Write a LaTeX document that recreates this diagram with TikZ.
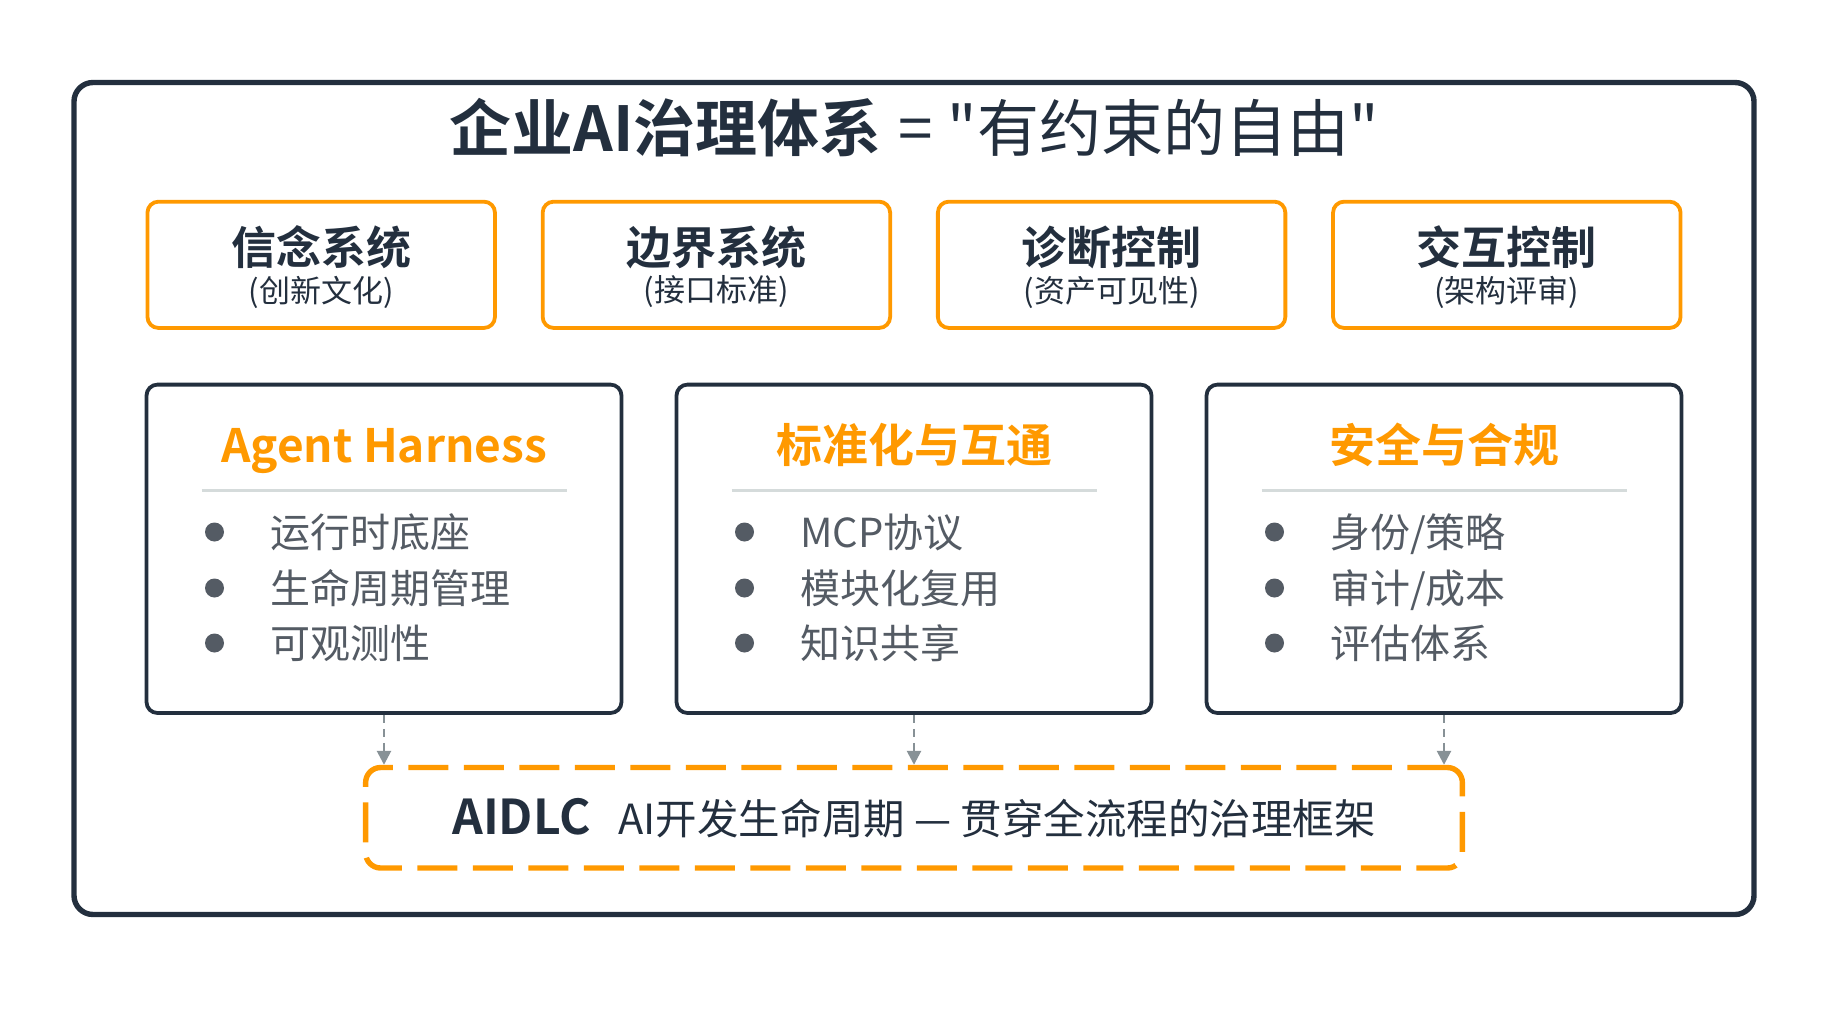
\documentclass[tikz,border=0pt]{standalone}
\usepackage{fontspec}
\setmainfont{Noto Sans CJK SC}[BoldFont={* Bold}, Ligatures=TeXOff]
\usetikzlibrary{arrows.meta}

\definecolor{navy}{HTML}{232F3E}
\definecolor{amzorange}{HTML}{FF9900}
\definecolor{slate}{HTML}{545B64}
\definecolor{rulegray}{HTML}{D5DBDB}
\definecolor{arrowgray}{HTML}{879196}

\begin{document}
\begin{tikzpicture}[
    x=1pt, y=-1pt,
    % GLOBAL CFG
    font=\fontsize{40pt}{48pt}\selectfont,
    >={Triangle[length=14pt,width=14pt]},
    % Styles
    frame/.style={% For the outer box
        rectangle,
        rounded corners=19pt,
        draw=navy,
        line width=5.4pt,
        minimum width=1680pt,
        minimum height=832pt,
        },
    sysbox/.style={% For the four control systems
        rectangle,
        rounded corners=11pt,
        draw=amzorange,
        line width=3.8pt,
        minimum width=347.5pt,
        minimum height=126.3pt,
        },
    sysname/.style={% Bold name in a system box
        font=\bfseries\fontsize{45pt}{54pt}\selectfont,
        text=navy,
        inner sep=0pt
        },
    sysnote/.style={% Small note under the name
        font=\fontsize{31pt}{37pt}\selectfont,
        text=navy,
        inner sep=0pt
        },
    pillar/.style={% For the three big boxes
        rectangle,
        rounded corners=11pt,
        draw=navy,
        line width=3.8pt,
        minimum width=475pt,
        minimum height=328.4pt,
        },
    ptitle/.style={% Orange heading of a pillar
        font=\bfseries\fontsize{46pt}{55pt}\selectfont,
        text=amzorange,
        anchor=base,
        inner sep=0pt
        },
    divider/.style={% Thin rule under the heading
        draw=rulegray,
        line width=3pt,
        },
    dot/.style={% Bullet
        circle,
        fill=slate,
        minimum size=19pt,
        inner sep=0pt
        },
    item/.style={% Bullet text
        text=slate,
        anchor=base west,
        inner sep=0pt
        },
    aidlcbox/.style={% The dashed frame at the bottom
        rectangle,
        rounded corners=15pt,
        draw=amzorange,
        line width=5.4pt,
        dash pattern=on 40pt off 15.5pt,
        minimum width=1096.7pt,
        minimum height=100.5pt,
        text=navy,
        font=\fontsize{41.5pt}{50pt}\selectfont,
        inner sep=0pt
        },
    flow/.style={% Dashed grey arrows
        ->,
        draw=arrowgray,
        line width=2.6pt,
        dash pattern=on 8pt off 6pt,
        },
    ]

\useasboundingbox (0,0) rectangle (1828,1028);

%Start drawing the thing...
    % Draw the frame and the title
    \node [frame] (frame) at (914,498.5) {};
    \node [text=navy, font=\fontsize{62pt}{74pt}\selectfont, inner sep=0pt] (title) at (914,128)
        {{\bfseries 企业AI治理体系}\hspace{17pt}=\hspace{15pt}"有约束的自由"};

    % Draw control systems named sbox#
    \node [sysbox] (sbox1) at (321.2,264.8) {};
    \node [sysname] (sname1) at (321.2,247) {信念系统};
    \node [sysnote] (snote1) at (321.2,292) {(创新文化)};

    \node [sysbox] (sbox2) at (716.4,264.8) {};
    \node [sysname] (sname2) at (716.4,247) {边界系统};
    \node [sysnote] (snote2) at (716.4,292) {(接口标准)};

    \node [sysbox] (sbox3) at (1111.6,264.8) {};
    \node [sysname] (sname3) at (1111.6,247) {诊断控制};
    \node [sysnote] (snote3) at (1111.6,292) {(资产可见性)};

    \node [sysbox] (sbox4) at (1506.8,264.8) {};
    \node [sysname] (sname4) at (1506.8,247) {交互控制};
    \node [sysnote] (snote4) at (1506.8,292) {(架构评审)};

    % Draw pillars named pbox#
    \node [pillar] (pbox1) at (384,548.8) {};
    \node [ptitle] (ptitle1) at (384,462) {Agent Harness};
    \draw [divider] (201.5,490) -- (566.5,490);
    \node [dot] (dot11) at (214.5,532) {};
    \node [item] (item11) at (270,547) {运行时底座};
    \node [dot] (dot12) at (214.5,588) {};
    \node [item] (item12) at (270,603) {生命周期管理};
    \node [dot] (dot13) at (214.5,643) {};
    \node [item] (item13) at (270,658) {可观测性};

    \node [pillar] (pbox2) at (914,548.8) {};
    \node [ptitle] (ptitle2) at (914,462) {标准化与互通};
    \draw [divider] (731.5,490) -- (1096.5,490);
    \node [dot] (dot21) at (744.5,532) {};
    \node [item] (item21) at (800,547) {MCP协议};
    \node [dot] (dot22) at (744.5,588) {};
    \node [item] (item22) at (800,603) {模块化复用};
    \node [dot] (dot23) at (744.5,643) {};
    \node [item] (item23) at (800,658) {知识共享};

    \node [pillar] (pbox3) at (1444,548.8) {};
    \node [ptitle] (ptitle3) at (1444,462) {安全与合规};
    \draw [divider] (1261.5,490) -- (1626.5,490);
    \node [dot] (dot31) at (1274.5,532) {};
    \node [item] (item31) at (1330,547) {身份/策略};
    \node [dot] (dot32) at (1274.5,588) {};
    \node [item] (item32) at (1330,603) {审计/成本};
    \node [dot] (dot33) at (1274.5,643) {};
    \node [item] (item33) at (1330,658) {评估体系};

    % Draw the lifecycle box
    \node [aidlcbox] (aidlc) at (914,817.75)
        {{\bfseries\fontsize{48pt}{58pt}\selectfont AIDLC}\hspace{28pt}AI开发生命周期 — 贯穿全流程的治理框架};

% Start connecting all.
    \draw [flow] (pbox1.south) -- (pbox1.south |- aidlc.north);
    \draw [flow] (pbox2.south) -- (pbox2.south |- aidlc.north);
    \draw [flow] (pbox3.south) -- (pbox3.south |- aidlc.north);
\end{tikzpicture}
\end{document}
